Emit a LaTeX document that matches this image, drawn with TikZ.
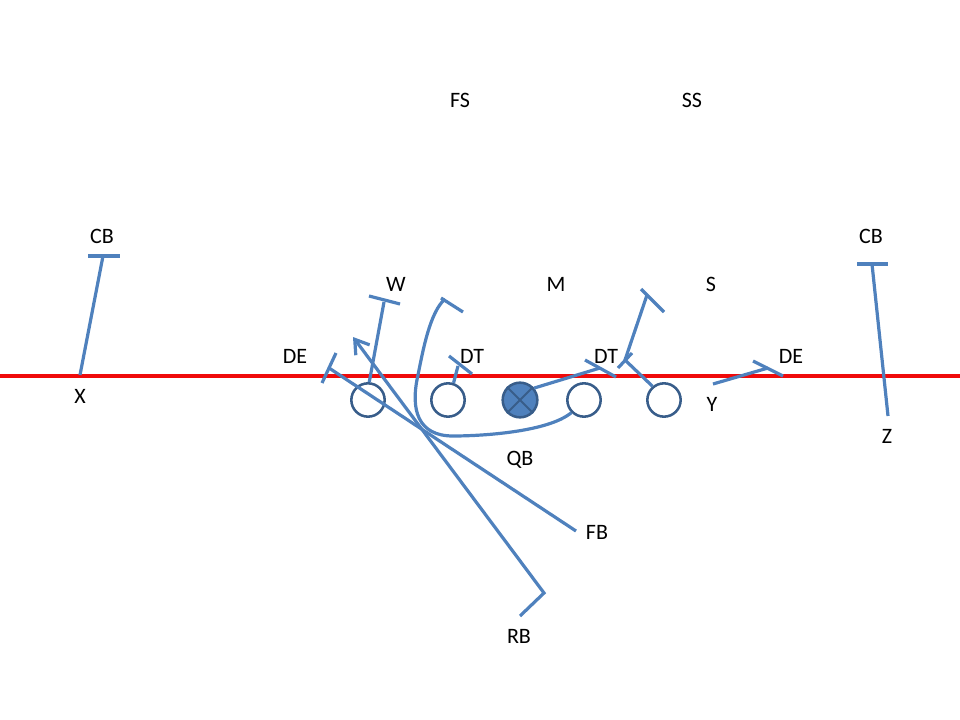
\documentclass[tikz,border=0pt]{standalone}
\usepackage{fontspec}
\setmainfont{Carlito}
\usetikzlibrary{arrows.meta}
\definecolor{route}{RGB}{79,129,189}
\definecolor{rim}{RGB}{56,93,138}
\definecolor{scrim}{RGB}{240,10,10}

\tikzset{
  lbl/.style={font=\fontsize{16.5}{19}\selectfont, inner sep=2pt},
  player/.style={circle, draw=rim, line width=1.9pt, minimum size=25pt, inner sep=0pt},
  rte/.style={draw=route, line width=2.4pt},
}

\begin{document}
\begin{tikzpicture}[x=0.75pt,y=0.75pt,yscale=-1]
\useasboundingbox (0,0) rectangle (960,720);

%Straight Lines: line of scrimmage
\draw [scrim, line width=3pt] (0,376) -- (960,376);

%Shape: Circle (offensive line)
\node [player] (ltk) at (368,400) {};
\node [player] (lgd) at (448,400) {};
\node [player, fill=route, minimum size=26pt] (ctr) at (520,400) {};
\draw [rim, line width=1.4pt] (ctr.north west) -- (ctr.south east) (ctr.north east) -- (ctr.south west);
\node [player] (rgd) at (584,400) {};
\node [player] (rtk) at (664,400) {};

% Text Node
\node [lbl] (fs)  at (460,100) {FS};
\node [lbl] (ss)  at (692,100) {SS};
\node [lbl] (cbl) at (102,236) {CB};
\node [lbl] (cbr) at (871,236) {CB};
\node [lbl] (wlb) at (396,284) {W};
\node [lbl] (mlb) at (556,284) {M};
\node [lbl] (slb) at (711,284) {S};
\node [lbl] (del) at (295,356) {DE};
\node [lbl] (dtl) at (472,356) {DT};
\node [lbl] (dtr) at (606,356) {DT};
\node [lbl] (der) at (791,356) {DE};
\node [lbl] (xr)  at (80,396)  {X};
\node [lbl] (yr)  at (712,404) {Y};
\node [lbl] (zr)  at (887,436) {Z};
\node [lbl] (qb)  at (520,460) {QB};
\node [lbl] (fb)  at (597,532) {FB};
\node [lbl] (rb)  at (519,636) {RB};

%Coordinates: route starts and ends
\coordinate (xst)  at (80,375);
\coordinate (zst)  at (888,416);
\coordinate (yst)  at (713,384);
\coordinate (fbst) at (576,531);
\coordinate (rbst) at (520,616);
\coordinate (rbcut) at (544,593);
\coordinate (xend) at (103,256);
\coordinate (zend) at (872,264);
\coordinate (wend) at (384,302);
\coordinate (deend) at (329,368);
\coordinate (dtend) at (458,366);
\coordinate (cend) at (600,368);
\coordinate (trn) at (625,360);
\coordinate (tend) at (647,295);
\coordinate (yend) at (768,368);
\coordinate (gend) at (445,299);

% Routes and blocks
\draw [rte] (xst) -- (xend);
\draw [rte] (zst) -- (zend);
\draw [rte] (ltk.86) -- (wend);
\draw [rte] (lgd.72) -- (dtend);
\draw [rte] (ctr.40) -- (cend);
\draw [rte] (rtk.130) -- (trn) -- (tend);
\draw [rte] (yst) -- (yend);
\draw [rte] (fbst) -- (deend);
\draw [rte, -{Straight Barb[length=10pt,width=13pt]}] (rbst) -- (rbcut) -- (353,337);
\draw [rte] (rgd.225) .. controls (548,432) and (482,436) .. (453,436)
  .. controls (418,436) and (410,410) .. (418,375)
  .. controls (423,350) and (430,312) .. (gend);

%Straight Lines: block bars
\draw [rte] (88,256) -- (120,256);
\draw [rte] (857,264) -- (888,264);
\draw [rte] (369,296) -- (400,304);
\draw [rte] (322,383) -- (336,353);
\draw [rte] (449,356) -- (472,374);
\draw [rte] (585,360) -- (616,377);
\draw [rte] (618,368) -- (632,353);
\draw [rte] (641,289) -- (664,312);
\draw [rte] (753,361) -- (783,376);
\draw [rte] (441,298) -- (463,312);

\end{tikzpicture}
\end{document}
